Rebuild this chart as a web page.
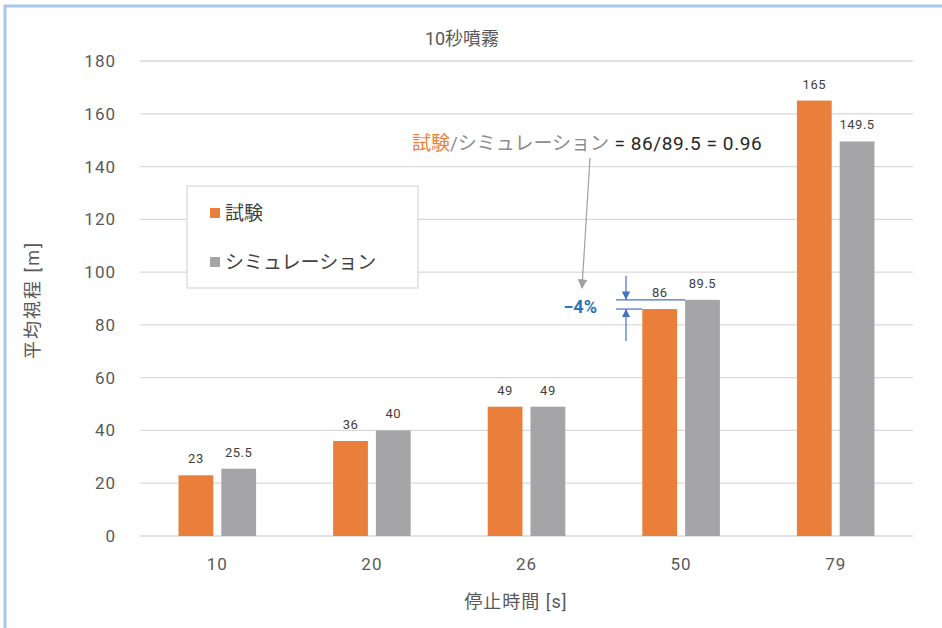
<!DOCTYPE html>
<html lang="ja">
  <head>
    <meta charset="UTF-8" />
    <title>10秒噴霧</title>
    <style>
      body {
        margin: 0;
        background: #fff;
      }
      svg text {
        font-family: Roboto, "Noto Sans CJK JP", sans-serif;
      }
      .grid-lines {
        stroke: #d9d9d9;
        stroke-width: 1.3;
      }
      .tick-label {
        fill: #595959;
        font-size: 17px;
        letter-spacing: 1px;
      }
      .bar-label {
        fill: #404040;
        font-size: 13px;
        letter-spacing: 0.5px;
        text-anchor: middle;
      }
    </style>
  </head>
  <body>
    <script src="https://d3js.org/d3.v7.min.js"></script>
    <script>
      // data
      const categories = ["10", "20", "26", "50", "79"];
      const series = ["試験", "シミュレーション"];
      const testValues = [23, 36, 49, 86, 165];
      const simValues = [25.5, 40, 49, 89.5, 149.5];
      const yTicks = [0, 20, 40, 60, 80, 100, 120, 140, 160, 180];

      const colors = ["#e97f3a", "#a5a5a7"];

      function makeChart() {
        const width = 942;
        const height = 628;
        const plot = { left: 140, right: 913, top: 61, bottom: 536 };

        const svg = d3
          .select("body")
          .append("svg")
          .attr("width", width)
          .attr("height", height);

        // light blue frame (left and top)
        svg
          .append("rect")
          .attr("x", 5)
          .attr("y", 6)
          .attr("width", width)
          .attr("height", height)
          .attr("fill", "none")
          .attr("stroke", "#a6c8ea")
          .attr("stroke-width", 3);

        const xScale = d3
          .scaleBand()
          .domain(categories)
          .range([plot.left, plot.right]);

        const yScale = d3
          .scaleLinear()
          .domain([0, 180])
          .range([plot.bottom, plot.top]);

        const barW = xScale.bandwidth() * 0.225;
        const gap = 8;

        // grid
        svg
          .append("g")
          .attr("class", "grid-lines")
          .selectAll("line")
          .data(yTicks)
          .join("line")
          .attr("x1", plot.left)
          .attr("x2", plot.right)
          .attr("y1", (d) => yScale(d))
          .attr("y2", (d) => yScale(d));

        // y tick labels
        svg
          .append("g")
          .selectAll("text")
          .data(yTicks)
          .join("text")
          .attr("class", "tick-label")
          .attr("x", 116)
          .attr("y", (d) => yScale(d))
          .attr("dy", "0.35em")
          .attr("text-anchor", "end")
          .text((d) => d);

        // x tick labels
        svg
          .append("g")
          .selectAll("text")
          .data(categories)
          .join("text")
          .attr("class", "tick-label")
          .attr("x", (d) => xScale(d) + xScale.bandwidth() / 2)
          .attr("y", 570)
          .attr("text-anchor", "middle")
          .text((d) => d);

        const rows = categories.map((c, i) => ({
          cat: c,
          values: [testValues[i], simValues[i]],
        }));

        const groups = svg
          .append("g")
          .selectAll("g")
          .data(rows)
          .join("g")
          .attr(
            "transform",
            (d) => `translate(${xScale(d.cat) + xScale.bandwidth() / 2}, 0)`
          );

        const bx = (j) => (j === 0 ? -gap / 2 - barW : gap / 2);

        groups
          .selectAll("rect")
          .data((d) => d.values)
          .join("rect")
          .attr("x", (d, j) => bx(j))
          .attr("y", (d) => yScale(d))
          .attr("width", barW)
          .attr("height", (d) => yScale(0) - yScale(d))
          .attr("fill", (d, j) => colors[j]);

        groups
          .selectAll(".bar-label")
          .data((d) => d.values)
          .join("text")
          .attr("class", "bar-label")
          .attr("x", (d, j) => bx(j) + barW / 2)
          .attr("y", (d) => yScale(d) - 12)
          .text((d) => d);

        // title and axis titles
        svg
          .append("text")
          .attr("x", 462)
          .attr("y", 45)
          .attr("text-anchor", "middle")
          .attr("fill", "#595959")
          .attr("font-size", 18)
          .text("10秒噴霧");

        svg
          .append("text")
          .attr("transform", "translate(39, 300) rotate(-90)")
          .attr("text-anchor", "middle")
          .attr("fill", "#595959")
          .attr("font-size", 18)
          .attr("letter-spacing", 2)
          .text("平均視程 [m]");

        svg
          .append("text")
          .attr("x", 516)
          .attr("y", 608)
          .attr("text-anchor", "middle")
          .attr("fill", "#595959")
          .attr("font-size", 18)
          .attr("letter-spacing", 1)
          .text("停止時間 [s]");

        // legend
        const legend = svg.append("g").attr("transform", "translate(187, 186)");
        legend
          .append("rect")
          .attr("width", 231)
          .attr("height", 102)
          .attr("fill", "#fff")
          .attr("stroke", "#d0d0d0");

        const legendItem = legend
          .selectAll(".legend-item")
          .data(series)
          .join("g")
          .attr("transform", (d, i) => `translate(23, ${27 + i * 49})`);

        legendItem
          .append("rect")
          .attr("y", -5)
          .attr("width", 10)
          .attr("height", 10)
          .attr("fill", (d, i) => colors[i]);

        legendItem
          .append("text")
          .attr("x", 15)
          .attr("dy", "0.35em")
          .attr("fill", "#404040")
          .attr("font-size", 19)
          .text((d) => d);

        // ratio annotation
        const note = svg
          .append("text")
          .attr("x", 412)
          .attr("y", 150)
          .attr("font-size", 19);
        note.append("tspan").attr("fill", colors[0]).text("試験");
        note.append("tspan").attr("fill", "#8c8c8c").text("/シミュレーション");
        note
          .append("tspan")
          .attr("fill", "#262626")
          .attr("letter-spacing", 0.6)
          .text(`  =  ${testValues[3]}/${simValues[3]}  =  0.96`);

        const defs = svg.append("defs");
        defs
          .append("marker")
          .attr("id", "grey-head")
          .attr("viewBox", "0 0 10 10")
          .attr("refX", 9)
          .attr("refY", 5)
          .attr("markerWidth", 8)
          .attr("markerHeight", 8)
          .attr("orient", "auto")
          .append("path")
          .attr("d", "M0,0 L10,5 L0,10 Z")
          .attr("fill", "#a0a0a0");
        defs
          .append("marker")
          .attr("id", "blue-head")
          .attr("viewBox", "0 0 10 10")
          .attr("refX", 10)
          .attr("refY", 5)
          .attr("markerWidth", 7)
          .attr("markerHeight", 7)
          .attr("orient", "auto")
          .append("path")
          .attr("d", "M0,0 L10,5 L0,10 Z")
          .attr("fill", "#4472c4");

        svg
          .append("line")
          .attr("x1", 590)
          .attr("y1", 158)
          .attr("x2", 582)
          .attr("y2", 288)
          .attr("stroke", "#a0a0a0")
          .attr("stroke-width", 1.2)
          .attr("marker-end", "url(#grey-head)");

        // -4% difference marker
        const x50 = xScale("50") + xScale.bandwidth() / 2;
        const yTest = yScale(testValues[3]);
        const ySim = yScale(simValues[3]);
        const blue = svg.append("g").attr("stroke", "#4472c4").attr("stroke-width", 1.2);
        blue
          .append("line")
          .attr("x1", 616)
          .attr("x2", x50 + gap / 2)
          .attr("y1", ySim)
          .attr("y2", ySim);
        blue
          .append("line")
          .attr("x1", 616)
          .attr("x2", x50 - gap / 2 - barW)
          .attr("y1", yTest)
          .attr("y2", yTest);
        blue
          .append("line")
          .attr("x1", 626)
          .attr("x2", 626)
          .attr("y1", ySim - 24)
          .attr("y2", ySim)
          .attr("marker-end", "url(#blue-head)");
        blue
          .append("line")
          .attr("x1", 626)
          .attr("x2", 626)
          .attr("y1", yTest + 32)
          .attr("y2", yTest)
          .attr("marker-end", "url(#blue-head)");

        svg
          .append("text")
          .attr("x", 597)
          .attr("y", 313)
          .attr("text-anchor", "end")
          .attr("fill", "#2e75b6")
          .attr("font-size", 18)
          .attr("font-weight", "bold")
          .text("−4%");
      }

      makeChart();
    </script>
  </body>
</html>
